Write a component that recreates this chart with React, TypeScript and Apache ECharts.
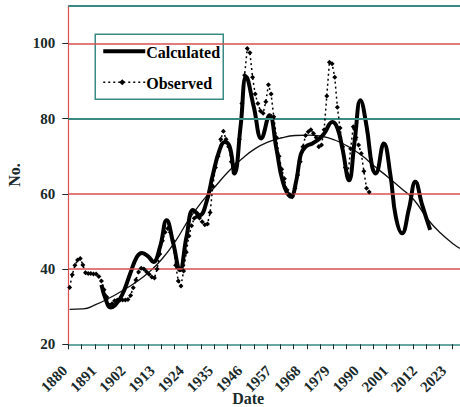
import React, { useEffect, useRef } from "react";
import * as echarts from "echarts";

// ---- data ----
const trendYears = [1880, 1885, 1890, 1895, 1900, 1905, 1910, 1915, 1920, 1925, 1930, 1935, 1940, 1945, 1950, 1955, 1960, 1965, 1970, 1975, 1980, 1985, 1990, 1995, 2000, 2005, 2010, 2015, 2020, 2025, 2027.2];
const trendValues = [29.3, 29.4, 30.6, 32.3, 34.3, 36.5, 39.2, 42.8, 47.5, 53.2, 58.0, 62.0, 66.0, 69.3, 72.0, 73.8, 74.9, 75.5, 75.6, 75.3, 74.3, 72.6, 70.3, 67.3, 64.5, 61.5, 58.3, 53.3, 49.5, 46.5, 45.5];

const calcYears = [1892, 1893.5, 1895.4, 1897.2, 1899.8, 1902.9, 1905.4, 1907.3, 1909.7, 1911.6, 1914.1, 1916.6, 1919.1, 1921.6, 1924.1, 1926.6, 1929.1, 1931.5, 1934, 1936.5, 1938.5, 1940.4, 1942.2, 1944.5, 1946.6, 1949.5, 1952.3, 1955.4, 1958, 1960.5, 1963.5, 1965.5, 1967.2, 1969, 1971.6, 1974, 1976, 1979.1, 1981, 1982.9, 1985.4, 1987.5, 1989.7, 1992, 1994.1, 1995.4, 1998.5, 2001, 2003, 2005.4, 2008, 2010.4, 2013, 2016];
const calcValues = [35.8, 32.2, 29.8, 30.4, 33.1, 38.9, 43.3, 44.3, 43.3, 41.9, 45.9, 53, 46.8, 39.7, 48.6, 55.7, 54.3, 57.5, 65, 71.5, 73.8, 72.5, 65.4, 78, 91.1, 83, 74.7, 80.9, 72, 63, 59.2, 63.5, 70.5, 72.5, 73.4, 74.5, 76, 79.1, 77.5, 72, 63.6, 74, 84.9, 78, 67.2, 65.4, 73.4, 65, 54, 49.5, 56, 63.2, 57, 50.4];

const obsYears = [1880, 1881, 1882, 1883, 1884, 1885, 1886, 1887, 1888, 1889, 1890, 1891, 1892, 1893, 1894, 1895, 1896, 1897, 1898, 1899, 1900, 1901, 1902, 1903, 1904, 1905, 1906, 1907, 1908, 1909, 1910, 1911, 1912, 1913, 1914, 1915, 1916, 1917, 1918, 1919, 1920, 1921, 1922, 1923, 1924, 1925, 1926, 1927, 1928, 1929, 1930, 1931, 1932, 1933, 1934, 1935, 1936, 1937, 1938, 1939, 1940, 1941, 1942, 1943, 1944, 1945, 1946, 1947, 1948, 1949, 1950, 1951, 1952, 1953, 1954, 1955, 1956, 1957, 1958, 1959, 1960, 1961, 1962, 1963, 1964, 1965, 1966, 1967, 1968, 1969, 1970, 1971, 1972, 1973, 1974, 1975, 1976, 1977, 1978, 1979, 1980, 1981, 1982, 1983, 1984, 1985, 1986, 1987, 1988, 1989, 1990, 1991, 1992, 1993];
const obsValues = [35.1, 38.5, 41, 42.4, 42.8, 41.1, 39, 38.8, 38.8, 38.7, 38.7, 38, 36.8, 34.5, 32.6, 30.4, 30.8, 31.6, 31.8, 31.8, 31.8, 31.8, 31.9, 33, 35, 37.1, 39.2, 40.2, 40, 39.3, 38.6, 37.9, 37.6, 40, 44, 47.5, 49.8, 50.8, 49.8, 47.5, 41, 36.8, 35.5, 39.5, 44.5, 48.8, 51.5, 53.5, 54, 53.6, 52.6, 51.8, 52, 55, 62, 67, 70, 74.5, 76.6, 74.5, 72.5, 68.5, 65.5, 68, 74.5, 84, 91.5, 98.6, 97.5, 91, 86.5, 84, 82, 81.4, 84.5, 89, 86.5, 80.5, 75, 70, 66.5, 64, 61, 59.8, 59.2, 61.5, 65, 68.5, 72.5, 75.5, 76.5, 77, 76, 75, 72.5, 73, 77, 86, 95, 94.6, 91, 83, 77.5, 72.5, 67, 65, 72, 77.8, 75, 73, 70.7, 66, 61.5, 60.5];

const xLabelYears = [1880, 1891, 1902, 1913, 1924, 1935, 1946, 1957, 1968, 1979, 1990, 2001, 2012, 2023];
const xTickYears = Array.from({ length: 30 }, (_, k) => 1879.5 + 5 * k);
const yTickValues = [20, 40, 60, 80, 100];
const redGridValues = [40, 60, 100];
const tealGridValues = [80, 110];

const FONT = "'Liberation Serif', 'Times New Roman', serif";
const TEXT = "#1a2a2a";
const TEAL = "#3a8a84";
const RED = "#d94f4f";

const zip = (xs: number[], ys: number[]) => xs.map((x, i) => [x, ys[i]]);

export default function App() {
  const ref = useRef<HTMLDivElement>(null);
  useEffect(() => {
    if (!ref.current) return;
    const chart = echarts.init(ref.current, null, { renderer: "svg" });
    const lx = 94.5, ly = 33.5;
    chart.setOption({
      animation: false,
      backgroundColor: "#ffffff",
      grid: { left: 68.3, right: 0, top: 5.7, bottom: 62.7, containLabel: false, outerBoundsMode: "none" },
      xAxis: {
        type: "value",
        min: 1879.5,
        max: 2027.25,
        name: "Date",
        nameLocation: "middle",
        nameGap: 46,
        nameMoveOverlap: false,
        nameTextStyle: { fontFamily: FONT, fontWeight: "bold", fontSize: 16, color: TEXT, padding: [0, 32, 0, 0] },
        axisLine: { show: true, onZero: false, lineStyle: { color: TEAL, width: 1.5 } },
        axisTick: { show: true, customValues: xTickYears, length: 5, lineStyle: { color: TEXT, width: 1 } },
        axisLabel: {
          customValues: xLabelYears,
          rotate: 45,
          margin: 19,
          padding: [0, 7, 0, 0],
          fontFamily: FONT,
          fontWeight: "bold",
          fontSize: 15,
          color: TEXT,
          formatter: (v: number) => String(Math.round(v)),
        },
        splitLine: { show: false },
      },
      yAxis: {
        type: "value",
        min: 20,
        max: 110,
        interval: 20,
        name: "No.",
        nameLocation: "middle",
        nameGap: 46,
        nameMoveOverlap: false,
        nameTextStyle: { fontFamily: FONT, fontWeight: "bold", fontSize: 16, color: TEXT },
        axisLine: { show: true, lineStyle: { color: RED, width: 1.2 } },
        axisTick: { show: true, customValues: yTickValues, length: 6, lineStyle: { color: TEXT, width: 1 } },
        axisLabel: {
          customValues: yTickValues,
          margin: 13,
          fontFamily: FONT,
          fontWeight: "bold",
          fontSize: 15,
          color: TEXT,
        },
        splitLine: { show: false },
      },
      series: [
        {
          name: "Trend",
          type: "line",
          data: zip(trendYears, trendValues),
          smooth: true,
          showSymbol: false,
          symbol: "none",
          lineStyle: { color: "#111", width: 1.3 },
          z: 3,
          markLine: {
            silent: true,
            symbol: "none",
            label: { show: false },
            lineStyle: { color: RED, width: 1.5, type: "solid", opacity: 1 },
            emphasis: { disabled: true },
            data: [
              ...redGridValues.map((v) => ({ yAxis: v })),
              ...tealGridValues.map((v) => ({ yAxis: v, lineStyle: { color: TEAL, width: 2.2, type: "solid" } })),
            ],
          },
        },
        {
          name: "Calculated",
          type: "line",
          data: zip(calcYears, calcValues),
          smooth: 0.45,
          showSymbol: false,
          symbol: "none",
          lineStyle: { color: "#000", width: 4 },
          z: 4,
        },
        {
          name: "Observed",
          type: "line",
          data: zip(obsYears, obsValues),
          smooth: false,
          symbol: "diamond",
          symbolSize: 5,
          itemStyle: { color: "#000" },
          lineStyle: { color: "#000", width: 1.5, type: [2, 3] },
          z: 5,
        },
      ],
      graphic: [
        {
          type: "group",
          left: lx,
          top: ly,
          children: [
            { type: "rect", shape: { x: 0, y: 0, width: 128, height: 65 }, style: { fill: "#fff", stroke: TEAL, lineWidth: 1.5 } },
            { type: "line", shape: { x1: 8, y1: 17, x2: 50, y2: 17 }, style: { stroke: "#000", lineWidth: 4 } },
            { type: "text", x: 51, y: 18, style: { text: "Calculated", font: `bold 16px ${FONT}`, fill: "#000", verticalAlign: "middle" } },
            { type: "line", shape: { x1: 8, y1: 48, x2: 50, y2: 48 }, style: { stroke: "#000", lineWidth: 1.5, lineDash: [2, 3] } },
            { type: "polygon", shape: { points: [[27, 45], [30, 48], [27, 51], [24, 48]] }, style: { fill: "#000" } },
            { type: "text", x: 51, y: 49, style: { text: "Observed", font: `bold 16px ${FONT}`, fill: "#000", verticalAlign: "middle" } },
          ],
          z: 100,
        },
      ],
    });
    return () => chart.dispose();
  }, []);
  return <div ref={ref} style={{ position: "absolute", left: 0, top: 0, width: 460, height: 407 }} />;
}
